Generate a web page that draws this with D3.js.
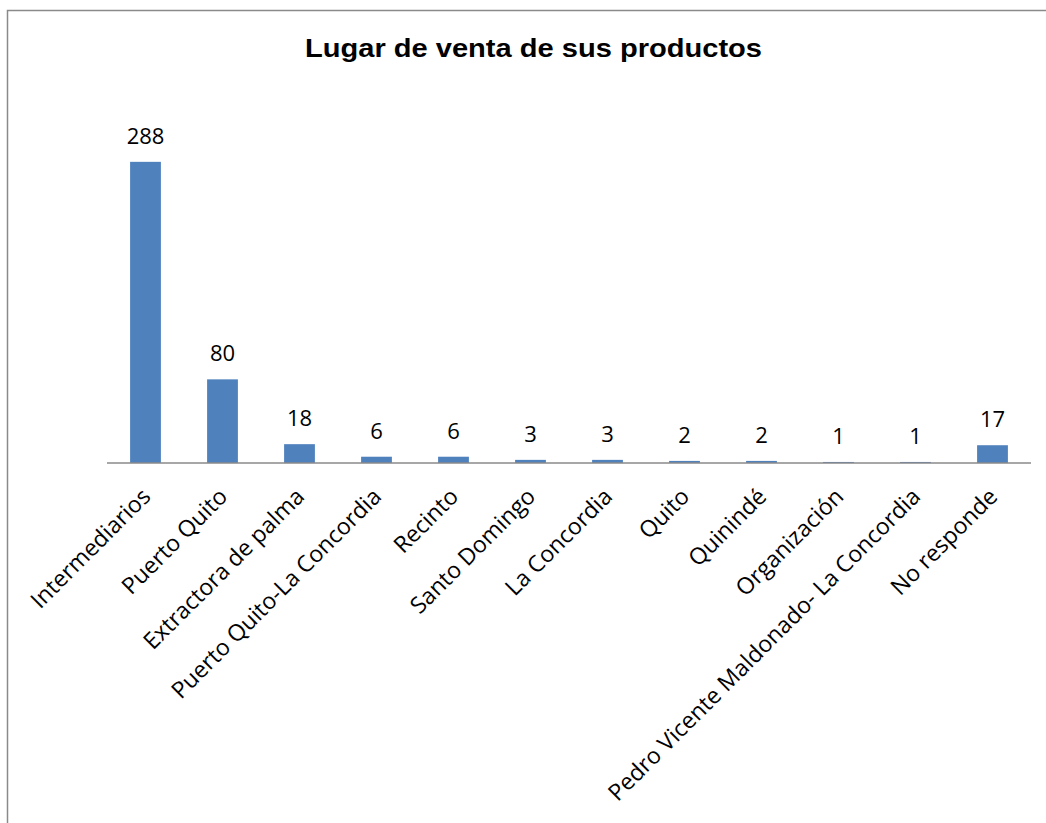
<!DOCTYPE html>
<html>
<head>
<meta charset="utf-8">
<script src="https://cdn.jsdelivr.net/npm/d3@7"></script>
<style>
  html, body { margin: 0; padding: 0; background: #fff; }
  svg { display: block; }
</style>
</head>
<body>
<svg width="1046" height="823"></svg>
<script>
// datos
var categorias = ["Intermediarios", "Puerto Quito", "Extractora de palma", "Puerto Quito-La Concordia",
  "Recinto", "Santo Domingo", "La Concordia", "Quito", "Quinindé", "Organización",
  "Pedro Vicente Maldonado- La Concordia", "No responde"];
var valores = [288, 80, 18, 6, 6, 3, 3, 2, 2, 1, 1, 17];
var titulo = "Lugar de venta de sus productos";

var svg = d3.select("svg"),
    width = +svg.attr("width"),
    height = +svg.attr("height");

var izq = 107, der = 1031, base = 463, arriba = 97;

// marco del grafico
svg.append("rect")
    .attr("x", 7.5).attr("y", 10.5)
    .attr("width", 1100).attr("height", 900)
    .attr("fill", "none")
    .attr("stroke", "#8a8a8a")
    .attr("stroke-width", 1.5);

svg.append("text")
    .attr("x", 533.5).attr("y", 57)
    .attr("text-anchor", "middle")
    .attr("font-family", "Liberation Sans, Arial, sans-serif")
    .attr("font-weight", "bold")
    .attr("font-size", 26)
    .attr("textLength", 457)
    .attr("lengthAdjust", "spacingAndGlyphs")
    .text(titulo);

var x = d3.scaleBand()
    .domain(categorias)
    .range([izq, der])
    .paddingInner(0.6)
    .paddingOuter(0.3);

var y = d3.scaleLinear()
    .domain([0, 350])
    .range([base, arriba]);

var datos = categorias.map(function (c, i) { return { cat: c, val: valores[i] }; });

svg.selectAll(".bar")
    .data(datos)
    .enter().append("rect")
    .attr("class", "bar")
    .attr("x", function (d) { return x(d.cat); })
    .attr("y", function (d) { return y(d.val); })
    .attr("width", x.bandwidth())
    .attr("height", function (d) { return base - y(d.val); })
    .attr("fill", "#4f81bd");

// eje horizontal
var eje = svg.append("g")
    .attr("transform", "translate(0," + base + ")")
    .call(d3.axisBottom(x).tickSize(0).tickSizeOuter(0).tickPadding(0));
eje.select(".domain")
    .attr("stroke", "#8a8a8a")
    .attr("stroke-width", 1.5)
    .attr("d", "M" + izq + ",0H" + der);
eje.selectAll(".tick text")
    .attr("font-family", "Open Sans, sans-serif")
    .attr("font-size", 23)
    .attr("fill", "#000")
    .attr("text-anchor", "end")
    .attr("dy", 0)
    .attr("transform", "translate(" + (x.bandwidth() / 2 - 9) + ",35) rotate(-45)");

// etiquetas de datos
svg.selectAll(".lbl")
    .data(datos)
    .enter().append("text")
    .attr("class", "lbl")
    .attr("x", function (d) { return x(d.cat) + x.bandwidth() / 2; })
    .attr("y", function (d) { return y(d.val) - 18; })
    .attr("text-anchor", "middle")
    .attr("font-family", "Open Sans, sans-serif")
    .attr("font-size", 22)
    .text(function (d) { return d.val; });
</script>
</body>
</html>
